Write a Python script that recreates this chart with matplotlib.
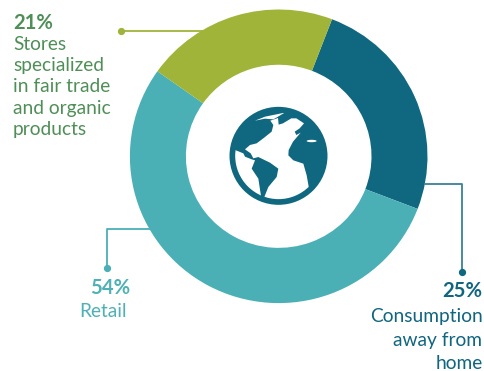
import matplotlib
matplotlib.use('Agg')
import matplotlib.pyplot as plt
from matplotlib.patches import Circle, Ellipse, Polygon
from matplotlib.transforms import Affine2D

plt.rcParams['font.family'] = ['Lato', 'DejaVu Sans']

# share of sales by channel
categories = ['Consumption away from home', 'Retail', 'Stores specialized in fair trade and organic products']
shares = [25, 54, 21]
colors = ['#106880', '#4bb0b5', '#9fb438']
text_colors = ['#10657f', '#4fb0b5', '#4f8f57']

W, H = 485, 371


def yy(py):
    # y counted from the top of the image
    return H - py


fig = plt.figure(figsize=(W / 100, H / 100), dpi=100)
ax = fig.add_axes([0, 0, 1, 1])

cx, cy = 278.7, yy(156.3)
wedges, _ = ax.pie(shares, colors=colors, startangle=69, counterclock=False, radius=148.8,
                   center=(cx, cy), frame=True,
                   wedgeprops=dict(width=56, linewidth=0))
ax.set_xlim(0, W)
ax.set_ylim(0, H)
ax.set_aspect('equal')
ax.axis('off')

# ring is very slightly squashed vertically
squash = Affine2D().translate(-cx, -cy).scale(1, 146.8 / 148.8).translate(cx, cy)
for w in wedges:
    w.set_transform(squash + ax.transData)

# leader lines
ax.plot([121, 204], [yy(31), yy(31)], color=colors[2], lw=1.3, zorder=1)
ax.plot([121], [yy(31)], 'o', color=colors[2], ms=4.2)
ax.plot([425, 462, 462], [yy(184), yy(184), yy(272)], color='#3a8198', lw=1.3, zorder=1)
ax.plot([462], [yy(272)], 'o', color=colors[0], ms=4.2)
ax.plot([150, 107, 107], [yy(229), yy(229), yy(268)], color=colors[1], lw=1.3, zorder=1)
ax.plot([107], [yy(268)], 'o', color=colors[1], ms=4.2)

# globe icon, outlines given relative to its own box


def gx(x):
    return 210 + x / 3


def gy(y):
    return yy(90 + y / 3)


ax.add_patch(Circle((gx(205.5), gy(197.5)), 49, color=colors[0], lw=0))
inner = Circle((gx(205.5), gy(197.5)), 43.3, transform=ax.transData)
atlantic = [(181, 92), (204, 84), (206, 104), (219, 100), (244, 85), (259, 85), (282, 100),
            (269, 115), (254, 125), (259, 135), (272, 128), (249, 155), (236, 180), (235, 196),
            (250, 211), (280, 221), (290, 256), (296, 290), (320, 330), (200, 350), (160, 340),
            (163, 321), (175, 291), (200, 261), (205, 236), (180, 218), (145, 201), (130, 205),
            (122, 190), (105, 178), (120, 165), (140, 160), (160, 145), (185, 125), (190, 105)]
pacific = [(60, 178), (75, 180), (100, 190), (105, 200), (125, 208), (135, 211), (125, 236),
           (145, 266), (153, 318), (150, 345), (60, 300), (50, 200)]
arctic = [(135, 92), (165, 80), (224, 68), (204, 80), (190, 88), (165, 86)]
for outline in (atlantic, pacific, arctic):
    land = Polygon([(gx(x), gy(y)) for x, y in outline], closed=True, color='white', lw=0)
    ax.add_patch(land)
    land.set_clip_path(inner)
ax.add_patch(Ellipse((gx(305), gy(153)), 10, 2.4, color='white', lw=0))

FS = 13.75
FB = 14.6

# green label
ax.text(13, yy(29), '21%', color=text_colors[2], fontsize=FB, fontweight='bold', va='baseline')
for base, line in zip([50, 71, 92, 114, 135],
                      ['Stores', 'specialized', 'in fair trade', 'and organic', 'products']):
    ax.text(13, yy(base), line, color=text_colors[2], fontsize=FS, va='baseline')

# dark label
ax.text(482.5, yy(297), '25%', color=text_colors[0], fontsize=FB, fontweight='bold', ha='right', va='baseline')
for base, line in zip([322, 346, 369], ['Consumption', 'away from', 'home']):
    ax.text(482.5, yy(base), line, color=text_colors[0], fontsize=FS, ha='right', va='baseline')

# teal label
ax.text(130, yy(294), '54%', color=text_colors[1], fontsize=FB, fontweight='bold', ha='right', va='baseline')
ax.text(127, yy(317), 'Retail', color=text_colors[1], fontsize=FS, ha='right', va='baseline')

fig.savefig('out.png', dpi=100)
